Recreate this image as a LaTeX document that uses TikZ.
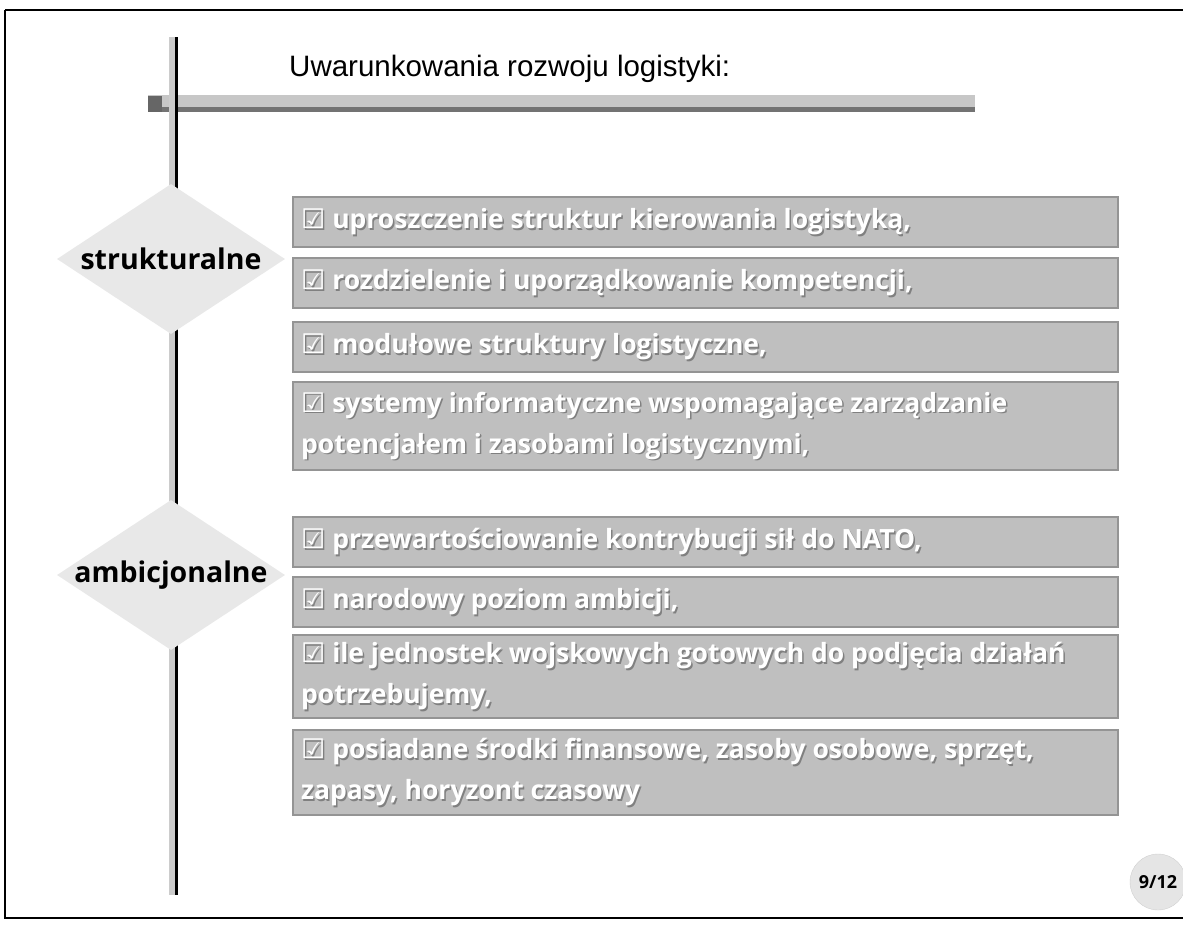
\documentclass[tikz,border=0pt]{standalone}
\usepackage{fontspec}
\setmainfont{Open Sans}
\newfontfamily\titlefont{Liberation Sans}
\newfontfamily\symfont{DejaVu Sans}
\usetikzlibrary{shapes.geometric}
\begin{document}
\begin{tikzpicture}[x=1pt,y=-1pt,
  itembox/.style={draw=black!42,line width=1.2pt,fill=black!25},
  itemtext/.style={anchor=west,align=left,inner sep=0pt,text=white,
    font=\fontsize{26.5}{41}\selectfont\bfseries},
  itemshade/.style={itemtext,text=black!50},
  tag/.style={diamond,fill=black!9,inner sep=0pt,minimum width=228pt,minimum height=150pt},
  tagtext/.style={font=\fontsize{28.5}{32}\selectfont\bfseries,text=black}]
\useasboundingbox (0,0) rectangle (1183,924);
\fill[white] (0,0) rectangle (1183,924);
% slide frame
\draw[line width=2pt] (5,10) -- (1183,10);
\draw[line width=2pt] (5,10) -- (5,918) -- (1183,918);
% title rule
\fill[black!22] (148,95) rectangle (975,112);
\fill[black!55] (148,107) rectangle (975,112);
\fill[black!60] (148,96) rectangle (162,112);
% vertical spine
\fill[black!20] (169,37) rectangle (175,895);
\fill[black] (175,37) rectangle (178,895);
% title
\node[anchor=west,inner sep=0pt,font=\titlefont\fontsize{29.5}{34}\selectfont] (title) at (289,69) {Uwarunkowania rozwoju logistyki:};
% category diamonds
\node[tag] (d1) at (171,259) {};
\node[tagtext] (d1t) at (d1) {strukturalne};
\node[tag] (d2) at (171,575) {};
\node[tagtext] (d2t) at (d2) {ambicjonalne};
% item boxes
\newcommand{\cb}{{\symfont\fontsize{27}{30}\selectfont ☑}}
\newcommand{\itemrow}[5]{%
  \draw[itembox] (293,#1) rectangle (1118,#2);
  \node[itemshade] (#3s) at (302.5,{(#1+#2)/2+1.5}) {\cb\ #4};
  \node[itemtext] (#3) at (301,{(#1+#2)/2}) {\cb\ #4};}
\itemrow{197}{247}{i1}{uproszczenie struktur kierowania logistyką,}{}
\itemrow{258}{308}{i2}{rozdzielenie i uporządkowanie kompetencji,}{}
\itemrow{322}{372}{i3}{modułowe struktury logistyczne,}{}
\itemrow{382}{470}{i4}{systemy informatyczne wspomagające zarządzanie\\potencjałem i zasobami logistycznymi,}{}
\itemrow{517}{567}{i5}{przewartościowanie kontrybucji sił do NATO,}{}
\itemrow{577}{627}{i6}{narodowy poziom ambicji,}{}
\itemrow{635}{718}{i7}{ile jednostek wojskowych gotowych do podjęcia działań\\potrzebujemy,}{}
\itemrow{730}{815}{i8}{posiadane środki finansowe, zasoby osobowe, sprzęt,\\zapasy, horyzont czasowy}{}
% page number
\node[circle,fill=black!10,draw=black!18,minimum size=56pt,inner sep=0pt] (pg) at (1158,882) {};
\node[font=\fontsize{18}{22}\selectfont\bfseries] (pgt) at (pg) {9/12};
\end{tikzpicture}
\end{document}
